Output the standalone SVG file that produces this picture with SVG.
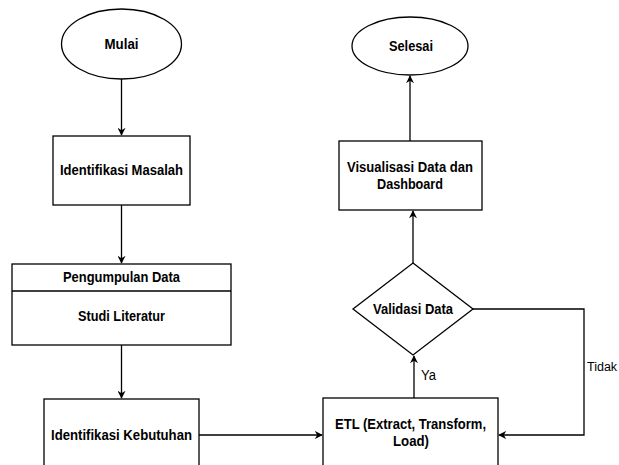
<svg xmlns="http://www.w3.org/2000/svg" width="619" height="465" viewBox="0 0 619 465">
<style>
.s{fill:#fff;stroke:#000;stroke-width:1.3}
.t{font-family:"Liberation Sans",Arial,sans-serif;font-size:14px;font-weight:bold;text-anchor:middle;fill:#000}
.l{font-family:"Liberation Sans",Arial,sans-serif;font-size:14px;fill:#000}
.c{fill:none;stroke:#000;stroke-width:1.3}
</style>
<defs>
<marker id="a" viewBox="0 0 10 10" refX="9" refY="5" markerWidth="8" markerHeight="8" markerUnits="userSpaceOnUse" orient="auto">
<path d="M0,0 L10,5 L0,10 L3,5 Z" fill="#000"/>
</marker>
</defs>
<rect width="619" height="465" fill="#fff"/>
<g id="connectors">
<path class="c" d="M121.5,79 V135" marker-end="url(#a)"/>
<path class="c" d="M121.5,205 V263" marker-end="url(#a)"/>
<path class="c" d="M121.5,345 V398" marker-end="url(#a)"/>
<path class="c" d="M199,435 H322" marker-end="url(#a)"/>
<path class="c" d="M414,398 V356" marker-end="url(#a)"/>
<path class="c" d="M413,263 V211" marker-end="url(#a)"/>
<path class="c" d="M410,141 V76" marker-end="url(#a)"/>
<path class="c" d="M473,309 H584 V435 H499" marker-end="url(#a)"/>
<text class="l" x="421" y="380" textLength="15" lengthAdjust="spacingAndGlyphs">Ya</text>
<text class="l" x="587" y="371" style="font-size:12.5px">Tidak</text>
</g>
<g id="mulai">
<ellipse class="s" cx="121.5" cy="44" rx="60" ry="35"/>
<text class="t" x="121.5" y="49" textLength="34" lengthAdjust="spacingAndGlyphs">Mulai</text>
</g>
<g id="identifikasi-masalah">
<rect class="s" x="53" y="136" width="137" height="69"/>
<text class="t" x="121.5" y="175" textLength="123" lengthAdjust="spacingAndGlyphs">Identifikasi Masalah</text>
</g>
<g id="pengumpulan-data">
<rect class="s" x="12" y="264" width="219" height="81"/>
<line class="c" x1="12" y1="291" x2="231" y2="291"/>
<text class="t" x="121.5" y="282" textLength="117" lengthAdjust="spacingAndGlyphs">Pengumpulan Data</text>
<text class="t" x="121.5" y="321" textLength="87" lengthAdjust="spacingAndGlyphs">Studi Literatur</text>
</g>
<g id="identifikasi-kebutuhan">
<rect class="s" x="44" y="399" width="155" height="80"/>
<text class="t" x="121.5" y="440" textLength="141" lengthAdjust="spacingAndGlyphs">Identifikasi Kebutuhan</text>
</g>
<g id="etl">
<rect class="s" x="323" y="398" width="175" height="80"/>
<text class="t" x="410.5" y="429" textLength="151" lengthAdjust="spacingAndGlyphs">ETL (Extract, Transform,</text>
<text class="t" x="411" y="446" textLength="36" lengthAdjust="spacingAndGlyphs">Load)</text>
</g>
<g id="validasi-data">
<polygon class="s" points="413,263 473,309 413,355 353,309"/>
<text class="t" x="413" y="314" textLength="80" lengthAdjust="spacingAndGlyphs">Validasi Data</text>
</g>
<g id="visualisasi">
<rect class="s" x="339" y="141" width="143" height="69"/>
<text class="t" x="410" y="172" textLength="126" lengthAdjust="spacingAndGlyphs">Visualisasi Data dan</text>
<text class="t" x="410" y="189" textLength="66" lengthAdjust="spacingAndGlyphs">Dashboard</text>
</g>
<g id="selesai">
<ellipse class="s" cx="410" cy="46" rx="58" ry="29"/>
<text class="t" x="411" y="51" textLength="44" lengthAdjust="spacingAndGlyphs">Selesai</text>
</g>
</svg>
